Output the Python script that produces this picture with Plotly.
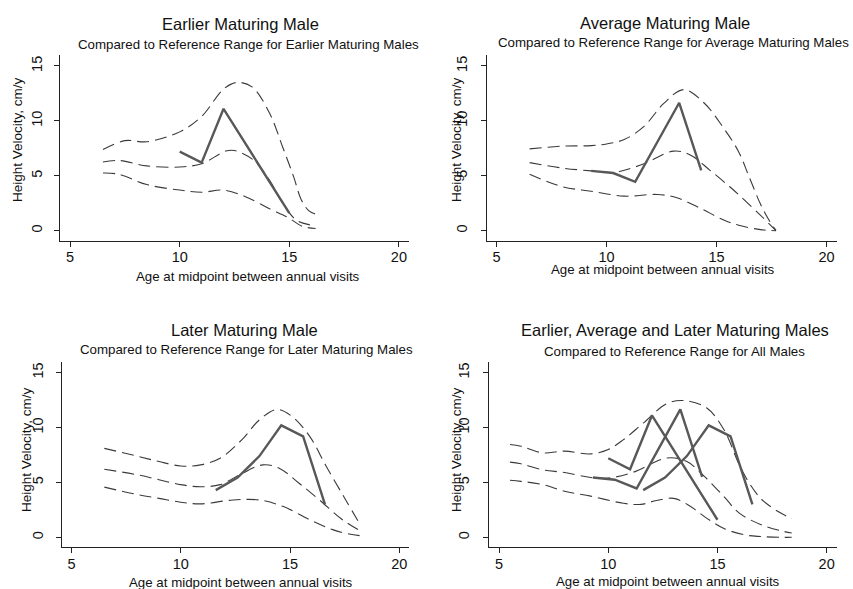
import plotly.graph_objects as go

W, H = 853, 589

# ---------------- individual growth velocity series ----------------
early_age = [10.0, 11.0, 12.0, 15.0]
early_vel = [7.2, 6.2, 11.1, 1.6]

avg_age = [9.3, 10.3, 11.3, 12.3, 13.3, 14.3]
avg_vel = [5.45, 5.25, 4.45, 8.1, 11.65, 5.5]

late_age = [11.6, 12.6, 13.6, 14.6, 15.6, 16.6]
late_vel = [4.3, 5.45, 7.4, 10.2, 9.2, 3.0]

# ---------------- reference ranges: earlier maturing ----------------
ref_e_up_age = [6.5, 7.5, 8.5, 10, 11, 12, 12.6, 13.3, 14.1, 14.7, 15.2, 15.55, 15.9, 16.2]
ref_e_up_val = [7.4, 8.2, 8.1, 9.0, 10.4, 12.9, 13.5, 13.1, 10.7, 7.6, 4.9, 2.8, 1.8, 1.5]
ref_e_mid_age = [6.5, 7.2, 8.5, 10, 11, 12.1, 12.5, 13.35, 14.1, 14.7, 15.3, 15.9, 16.2]
ref_e_mid_val = [6.25, 6.4, 5.9, 5.8, 6.1, 7.25, 7.3, 6.45, 4.6, 2.5, 1.0, 0.55, 0.5]
ref_e_lo_age = [6.5, 7.2, 8.5, 10, 11, 12, 13, 14.1, 14.9, 15.6, 16.2]
ref_e_lo_val = [5.25, 5.15, 4.2, 3.7, 3.5, 3.7, 3.1, 2.0, 1.25, 0.4, 0.2]

# ---------------- reference ranges: average maturing ----------------
ref_a_up_age = [6.5, 8, 9.3, 10, 10.8, 11.7, 12.6, 13.5, 14.4, 15.3, 16.0, 16.5, 17.0, 17.4, 17.7]
ref_a_up_val = [7.45, 7.7, 7.75, 7.9, 8.3, 9.5, 11.6, 12.85, 11.7, 9.4, 7.2, 4.8, 2.4, 0.9, 0.05]
ref_a_mid_age = [6.5, 8, 9.3, 10.3, 10.8, 11.7, 13.05, 13.8, 14.7, 15.6, 16.1, 17.0, 17.7]
ref_a_mid_val = [6.2, 5.7, 5.45, 5.3, 5.5, 6.1, 7.25, 6.9, 5.5, 4.0, 3.1, 1.4, 0.0]
ref_a_lo_age = [6.5, 8, 9.3, 10.8, 12.3, 13.2, 14.3, 15.3, 16.0, 17.0, 17.7]
ref_a_lo_val = [5.15, 4.0, 3.6, 3.15, 3.3, 3.0, 2.0, 1.0, 0.5, 0.1, 0.0]

# ---------------- reference ranges: later maturing ----------------
ref_l_up_age = [6.5, 8, 9, 10, 10.9, 11.8, 12.8, 13.6, 14.4, 15.1, 15.9, 16.65, 17.55, 18.2]
ref_l_up_val = [8.1, 7.4, 6.9, 6.5, 6.6, 7.2, 8.9, 10.7, 11.65, 11.0, 9.2, 6.5, 3.4, 1.2]
ref_l_mid_age = [6.5, 8, 9, 10, 10.9, 11.8, 12.7, 13.75, 14.5, 15.4, 16.35, 17.4, 18.2]
ref_l_mid_val = [6.2, 5.7, 5.25, 4.8, 4.6, 4.8, 5.7, 6.6, 6.3, 4.95, 3.4, 1.6, 0.6]
ref_l_lo_age = [6.5, 8, 9, 10, 10.9, 12.4, 13.6, 14.7, 15.9, 16.95, 17.7, 18.2]
ref_l_lo_val = [4.57, 3.9, 3.55, 3.2, 3.05, 3.4, 3.4, 2.8, 1.6, 0.7, 0.3, 0.15]

# ---------------- reference ranges: all males ----------------
ref_all_up_age = [5.5, 6, 7, 8, 9.2, 10, 10.7, 11.6, 12.7, 13.5, 14.5, 15.3, 16.0, 16.5, 17.0, 17.5, 18.0, 18.4]
ref_all_up_val = [8.45, 8.3, 7.7, 7.85, 7.6, 8.0, 8.9, 10.4, 12.2, 12.45, 11.8, 9.8, 6.6, 4.8, 3.5, 2.7, 2.1, 1.7]
ref_all_mid_age = [5.5, 6, 7, 8, 9.2, 10, 11.1, 12.7, 13.6, 14.4, 15.3, 16.0, 17.0, 18.0, 18.4]
ref_all_mid_val = [6.85, 6.7, 6.15, 5.9, 5.45, 5.4, 5.9, 7.23, 6.9, 5.55, 3.7, 2.2, 1.15, 0.55, 0.4]
ref_all_lo_age = [5.5, 6, 7, 8, 9.2, 10.7, 11.5, 12.2, 13.0, 13.7, 14.5, 15.3, 16.3, 17.0, 18.0, 18.4]
ref_all_lo_val = [5.2, 5.1, 4.8, 4.2, 3.75, 3.1, 3.0, 3.35, 3.55, 2.9, 1.75, 0.8, 0.2, 0.07, 0.0, 0.0]

titles = ["Earlier Maturing Male", "Average Maturing Male",
          "Later Maturing Male", "Earlier, Average and Later Maturing Males"]
subtitles = ["Compared to Reference Range for Earlier Maturing Males",
             "Compared to Reference Range for Average Maturing Males",
             "Compared to Reference Range for Later Maturing Males",
             "Compared to Reference Range for All Males"]
x_title = "Age at midpoint between annual visits"
y_title = "Height Velocity, cm/y"
x_ticks = [5, 10, 15, 20]
y_ticks = [0, 5, 10, 15]

FONT = "Liberation Sans, Arial, Helvetica, sans-serif"
SOLID = "#585858"
DASH = "#3a3a3a"

panels = [
    dict(refs=[(ref_e_up_age, ref_e_up_val), (ref_e_mid_age, ref_e_mid_val), (ref_e_lo_age, ref_e_lo_val)],
         obs=[(early_age, early_vel)],
         dom_x=(60, 409), dom_y=(55, 240.7),
         title=(240, 24), sub=(248, 45), xt=(248, 276), yt=(17, 140), ystand=6),
    dict(refs=[(ref_a_up_age, ref_a_up_val), (ref_a_mid_age, ref_a_mid_val), (ref_a_lo_age, ref_a_lo_val)],
         obs=[(avg_age, avg_vel)],
         dom_x=(486.5, 836.7), dom_y=(55, 240.7),
         title=(665, 23), sub=(673, 42), xt=(663, 269.5), yt=(456, 140), ystand=8),
    dict(refs=[(ref_l_up_age, ref_l_up_val), (ref_l_mid_age, ref_l_mid_val), (ref_l_lo_age, ref_l_lo_val)],
         obs=[(late_age, late_vel)],
         dom_x=(61.5, 409.3), dom_y=(361.7, 547.3),
         title=(244, 330), sub=(247, 350), xt=(240.5, 582.5), yt=(26, 450), ystand=7),
    dict(refs=[(ref_all_up_age, ref_all_up_val), (ref_all_mid_age, ref_all_mid_val), (ref_all_lo_age, ref_all_lo_val)],
         obs=[(early_age, early_vel), (avg_age, avg_vel), (late_age, late_vel)],
         dom_x=(489, 836.7), dom_y=(361.7, 547.3),
         title=(675, 330), sub=(674, 351), xt=(668, 581.5), yt=(456, 450), ystand=8),
]

fig = go.Figure()
annotations = []
layout = {}

for i, p in enumerate(panels):
    n = "" if i == 0 else str(i + 1)
    xa, ya = "x" + n, "y" + n
    for ax, vals in p["refs"]:
        fig.add_trace(go.Scatter(x=ax, y=vals, mode="lines", xaxis=xa, yaxis=ya,
                                 line=dict(color=DASH, width=1.1, dash="12px,6px", shape="spline", smoothing=1.0),
                                 hoverinfo="skip", showlegend=False))
    for ax, vals in p["obs"]:
        fig.add_trace(go.Scatter(x=ax, y=vals, mode="lines", xaxis=xa, yaxis=ya,
                                 line=dict(color=SOLID, width=2.4),
                                 showlegend=False))
    x0, x1 = p["dom_x"]
    ytop, ybot = p["dom_y"]
    layout["xaxis" + n] = dict(
        domain=[x0 / W, x1 / W], anchor=ya, range=[4.54, 20.46],
        tickvals=x_ticks, ticks="outside", ticklen=5, tickwidth=1, tickcolor="#222",
        showline=True, linecolor="#222", linewidth=1, showgrid=False, zeroline=False,
        tickfont=dict(family=FONT, size=14.5, color="#111"), ticklabelstandoff=-2)
    layout["yaxis" + n] = dict(
        domain=[1 - ybot / H, 1 - ytop / H], anchor=xa, range=[-0.91, 16.0],
        tickvals=y_ticks, ticks="outside", ticklen=5, tickwidth=1, tickcolor="#222",
        showline=True, linecolor="#222", linewidth=1, showgrid=False, zeroline=False,
        tickangle=-90, tickfont=dict(family=FONT, size=14.5, color="#111"),
        ticklabelstandoff=int(p["ystand"]))
    annotations.append(dict(text=titles[i], x=p["title"][0] / W, y=1 - p["title"][1] / H,
                            xref="paper", yref="paper", showarrow=False,
                            xanchor="center", yanchor="middle",
                            font=dict(family=FONT, size=16.5, color="#111")))
    annotations.append(dict(text=subtitles[i], x=p["sub"][0] / W, y=1 - p["sub"][1] / H,
                            xref="paper", yref="paper", showarrow=False,
                            xanchor="center", yanchor="middle",
                            font=dict(family=FONT, size=13.3, color="#111")))
    annotations.append(dict(text=x_title, x=p["xt"][0] / W, y=1 - p["xt"][1] / H,
                            xref="paper", yref="paper", showarrow=False,
                            xanchor="center", yanchor="middle",
                            font=dict(family=FONT, size=13.3, color="#111")))
    annotations.append(dict(text=y_title, x=p["yt"][0] / W, y=1 - p["yt"][1] / H,
                            xref="paper", yref="paper", showarrow=False, textangle=-90,
                            xanchor="center", yanchor="middle",
                            font=dict(family=FONT, size=13.5, color="#111")))

fig.update_layout(**layout)
fig.update_layout(width=W, height=H, margin=dict(l=0, r=0, t=0, b=0),
                  paper_bgcolor="white", plot_bgcolor="white",
                  annotations=annotations, showlegend=False)

fig.write_html("out.html")
